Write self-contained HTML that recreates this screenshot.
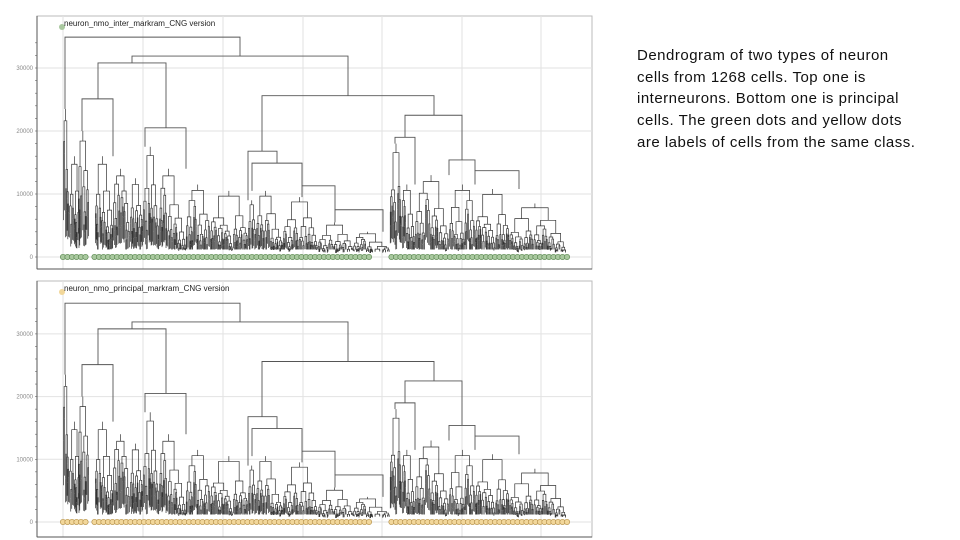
<!DOCTYPE html>
<html><head><meta charset="utf-8"><style>
body{margin:0;width:960px;height:540px;background:#fff;overflow:hidden;position:relative;font-family:"Liberation Sans",sans-serif}
.cap{position:absolute;left:637px;top:45px;font-size:15px;line-height:21.7px;color:#111;white-space:nowrap}
.cap div{height:21.7px;letter-spacing:0.5px}
</style></head><body>
<svg id="chart" width="960" height="540" style="position:absolute;left:0;top:0"></svg>
<div class="cap">
<div>Dendrogram of two types of neuron</div>
<div>cells from 1268 cells. Top one is</div>
<div>interneurons. Bottom one is principal</div>
<div>cells. The green dots and yellow dots</div>
<div>are labels of cells from the same class.</div>
</div>
<script>
// tick labels
const yTicks=[0,10000,20000,30000];
// upper tree links: [xLeft, xRight, height, leftChildHeight, rightChildHeight] (x in leaf units 0..504)
const links=[
[2,177,34900,23500,31900],
[69,285,31900,30800,25600],
[35,103,30800,25100,20500],
[199,371,25600,16800,22500],
[19,50,25100,20000,16000],
[82,123,20500,17500,14000],
[185,214,16800,9000,14900],
[342,399,22500,19000,15400],
[332,352,19000,18000,11500],
[386,412,15400,13000,13700],
[412,456,13700,11500,10800],
[189,239,14900,10500,11300],
[239,272,11300,9500,7500],
[272,320,7500,5500,4000]
];
// fringe clusters: [xStart, xEnd, topHeight]
const clusters=[
[0,6,23500],[6,17,16000],[15,26,20000],[32,50,16000],[50,67,14000],[67,80,12500],
[80,96,17500],[96,123,14000],[123,147,11500],[147,185,10500],[185,193,9000],[193,220,10500],
[220,255,9500],[255,290,5500],[290,327,4000],[327,338,18000],[338,352,11500],[352,386,13000],
[386,412,11500],[412,446,10800],[446,504,8500]
];
// fringe split ratios and height decay pattern
const ratios=[0.35,0.55,0.42,0.6,0.3,0.5,0.45,0.65,0.38,0.52];
const decay=[0.82,0.66,0.74,0.58,0.88,0.7,0.62,0.78];
// label dots gaps (leaf units)
const gaps=[[23,29],[310,325]];

const NS='http://www.w3.org/2000/svg';
const svg=document.getElementById('chart');
function mk(t,a,p){const e=document.createElementNS(NS,t);for(const k in a)e.setAttribute(k,a[k]);(p||svg).appendChild(e);return e;}

function panel(top,y0,pxPer10k,title,dotFill,dotStroke,name){
  const g=mk('g',{});
  
  
  const H=(name==='top-panel'?253:256);
  const yS=v=>y0-v/10000*pxPer10k;
  const xS=u=>63+u;
  const frame=mk('rect',{x:37,y:top,width:555,height:H,fill:'#fff',stroke:'#bbb','stroke-width':1},g);
  
  
  [63,143,223,303,382,462,541].forEach(x=>{const l=mk('line',{x1:x,x2:x,y1:top,y2:top+H,stroke:'#e2e2e2','stroke-width':1},g);
    
    });
  yTicks.forEach(v=>{const y=yS(v);
    const l=mk('line',{x1:37,x2:592,y1:y,y2:y,stroke:'#e2e2e2'},g);
    
    
    const t=mk('text',{x:33,y:y+2,'font-size':6,'text-anchor':'end',fill:'#888','font-family':'Liberation Sans'},g);
    t.textContent=v;
    
    });
  for(let v=0;v<=34000;v+=2000){const y=yS(v);mk('line',{x1:35,x2:37,y1:y,y2:y,stroke:'#666','stroke-width':0.6},g);}
  mk('line',{x1:37,x2:37,y1:top,y2:top+H,stroke:'#555'},g);
  mk('line',{x1:37,x2:592,y1:top+H,y2:top+H,stroke:'#555'},g);
  const tr=mk('g',{stroke:'#555','stroke-width':0.9,fill:'none'},g);
  
  
  links.forEach(L=>{
    const [a,b,h,h1,h2]=L;
    mk('polyline',{points:`${xS(a)},${yS(h1)} ${xS(a)},${yS(h)} ${xS(b)},${yS(h)} ${xS(b)},${yS(h2)}`},tr);
  });
  const fr=mk('g',{stroke:'#333','stroke-width':0.7,fill:'none'},g);
  
  
  let k=0;
  function clus(x1,x2,h,d){
    if(x2-x1<1.3||h<900||d>12){mk('line',{x1:xS((x1+x2)/2),x2:xS((x1+x2)/2),y1:yS(h),y2:yS(Math.max(1200,h*0.45))},fr);return (x1+x2)/2;}
    const r=ratios[k%ratios.length];const d1=decay[k%decay.length];const d2=decay[(k+3)%decay.length];k++;
    const m=x1+(x2-x1)*r;
    const h1=h*(0.15+0.85*d1),h2=h*(0.15+0.85*d2);
    const c1=clus(x1,m,h1,d+1),c2=clus(m,x2,h2,d+1);
    mk('polyline',{points:`${xS(c1)},${yS(h1)} ${xS(c1)},${yS(h)} ${xS(c2)},${yS(h)} ${xS(c2)},${yS(h2)}`},fr);
    return (c1+c2)/2;
  }
  clusters.forEach(c=>{const cx=clus(c[0],c[1],c[2]*0.92,0);mk('line',{x1:xS(cx),x2:xS(cx),y1:yS(c[2]),y2:yS(c[2]*0.92)},fr);});
  const dg=mk('g',{fill:dotFill,stroke:dotStroke,'stroke-width':0.7},g);
  
  
  for(let u=0;u<=504;u+=4.5){if(gaps.some(q=>u>q[0]&&u<q[1]))continue;mk('circle',{cx:xS(u),cy:y0,r:2.7},dg);}
  const ld=mk('circle',{cx:62,cy:top+11,r:3,fill:dotFill,stroke:'none'},g);
  
  
  const tt=mk('text',{x:64,y:top+10,'font-size':8,fill:'#222','font-family':'Liberation Sans'},g);
  tt.textContent=title;
  
  
}
panel(16,257,63,'neuron_nmo_inter_markram_CNG version','#a9c89f','#5f8c55','top-panel');
panel(281,522,62.7,'neuron_nmo_principal_markram_CNG version','#f2d79a','#b8954f','bottom-panel');
</script>
</body></html>
